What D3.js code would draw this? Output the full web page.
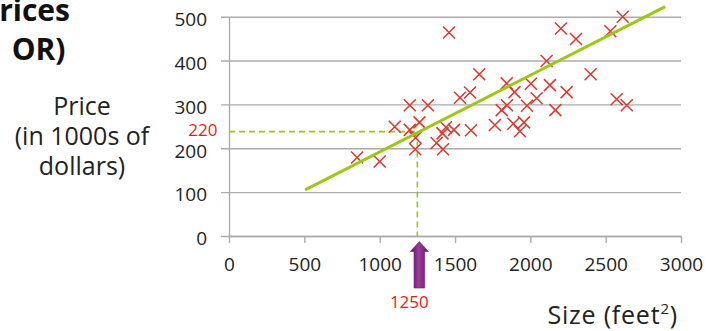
<!DOCTYPE html>
<html>
<head>
<meta charset="utf-8">
<script src="https://cdn.jsdelivr.net/npm/d3@7"></script>
<style>
  html, body { margin: 0; padding: 0; background: #fff; }
  svg { display: block; }
  text { font-family: "Open Sans", "DejaVu Sans", sans-serif; }
</style>
</head>
<body>
<svg id="chart" width="709" height="331"></svg>
<script>
// ---- data ----
const sizes  = [850, 1000, 1100, 1200, 1320, 1200, 1264, 1238, 1236, 1378, 1420, 1417, 1440, 1493, 1606,
                1460, 1533, 1600, 1661, 1765, 1887, 1958, 1931, 1810, 1845, 1978, 2042, 1895, 1843, 2004,
                2130, 2241, 2166, 2108, 2400, 2203, 2303, 2531, 2613, 2573, 2640];
const prices = [179, 170, 249, 298, 298, 242, 259, 224, 198, 212, 198, 234, 248, 242, 241,
                464, 315, 327, 369, 253, 256, 259, 239, 287, 298, 297, 314, 328, 348, 347,
                344, 328, 287, 399, 369, 473, 449, 467, 500, 312, 298];
const fitX = [505, 2895];
const fitY = [105, 523];
const predictSize = 1250;
const predictLineY = 238;
const predictPriceLabel = "220";
const predictSizeLabel = "1250";
const xTicks = [0, 500, 1000, 1500, 2000, 2500, 3000];
const yTicks = [0, 100, 200, 300, 400, 500];
const titleLines = ["Housing Prices", "(Portland, OR)"];
const yLabelLines = ["Price", "(in 1000s of", "dollars)"];
const xLabel = "Size (feet";

// ---- scales ----
const svg = d3.select("#chart");
const x = d3.scaleLinear().domain([0, 3000]).range([229, 681]);
const y = d3.scaleLinear().domain([0, 500]).range([236, 16.7]);

const gridColor = "#ababab";
const textColor = "#222";

// gridlines
const grid = svg.append("g").attr("transform", "translate(681,0)")
  .call(d3.axisLeft(y).tickValues(yTicks).tickSize(460).tickFormat(""));
grid.select(".domain").remove();
grid.selectAll("line").attr("stroke", gridColor).attr("stroke-width", 1.4);

// y axis
const yAx = svg.append("g").attr("transform", "translate(229,0)")
  .call(d3.axisLeft(y).tickValues(yTicks).tickSize(0).tickPadding(22).tickFormat(d3.format("d")));
yAx.select(".domain").attr("stroke", gridColor).attr("stroke-width", 1.4);
yAx.selectAll("text").attr("font-size", 19).attr("fill", textColor).attr("dy", "0.46em")
  .style("font-family", "'Open Sans', sans-serif");

// x axis
const xAx = svg.append("g").attr("transform", "translate(0,236)")
  .call(d3.axisBottom(x).tickValues(xTicks).tickSize(7).tickSizeOuter(0).tickPadding(15)
        .tickFormat(d3.format("d")));
xAx.select(".domain").attr("stroke", gridColor).attr("stroke-width", 1.4);
xAx.selectAll("line").attr("stroke", gridColor).attr("stroke-width", 1.4);
xAx.selectAll("text").attr("font-size", 19).attr("fill", textColor)
  .style("font-family", "'Open Sans', sans-serif");

// dashed guide lines
const green = "#9cc812";
svg.append("line")
  .attr("x1", x(0)).attr("x2", x(predictSize))
  .attr("y1", y(predictLineY)).attr("y2", y(predictLineY))
  .attr("stroke", green).attr("stroke-width", 1.6).attr("stroke-dasharray", "6,4");
svg.append("line")
  .attr("x1", x(predictSize)).attr("x2", x(predictSize))
  .attr("y1", y(predictLineY)).attr("y2", y(0))
  .attr("stroke", green).attr("stroke-width", 1.6).attr("stroke-dasharray", "6,4");

// data crosses
const pts = sizes.map((s, i) => [s, prices[i]]);
const r = 6;
svg.append("g").selectAll("path").data(pts).join("path")
  .attr("d", d => {
    const cx = x(d[0]), cy = y(d[1]);
    return `M${cx - r},${cy - r}L${cx + r},${cy + r}M${cx - r},${cy + r}L${cx + r},${cy - r}`;
  })
  .attr("stroke", "#e0362b").attr("stroke-width", 1.5).attr("fill", "none");

// fit line
svg.append("path")
  .datum(fitX.map((v, i) => [v, fitY[i]]))
  .attr("d", d3.line().x(d => x(d[0])).y(d => y(d[1])))
  .attr("stroke", green).attr("stroke-width", 3).attr("fill", "none");

// purple arrow
const defs = svg.append("defs");
const grad = defs.append("linearGradient").attr("id", "arrowGrad")
  .attr("x1", "0%").attr("x2", "100%").attr("y1", "0%").attr("y2", "0%");
grad.append("stop").attr("offset", "0%").attr("stop-color", "#5a0f5c");
grad.append("stop").attr("offset", "45%").attr("stop-color", "#9a3c9a");
grad.append("stop").attr("offset", "100%").attr("stop-color", "#6a176b");
const ax = x(predictSize) + 2, tipY = y(0) + 5.5;
svg.append("path")
  .attr("d", `M${ax},${tipY} L${ax + 9},${tipY + 10} L${ax + 5.3},${tipY + 10} L${ax + 5.3},${tipY + 46.5}
              L${ax - 5.3},${tipY + 46.5} L${ax - 5.3},${tipY + 10} L${ax - 9},${tipY + 10} Z`)
  .attr("fill", "url(#arrowGrad)").attr("stroke", "#6a176b").attr("stroke-width", 0.6);

// red labels
svg.append("text").attr("x", 217.5).attr("y", y(predictLineY) + 4)
  .attr("text-anchor", "end").attr("font-size", 17).attr("fill", "#f01818")
  .text(predictPriceLabel);
svg.append("text").attr("x", x(predictSize) - 8).attr("y", 308)
  .attr("text-anchor", "middle").attr("font-size", 17).attr("fill", "#f01818")
  .text(predictSizeLabel);

// title fragment (cut off at the left edge, as in the reference)
svg.append("text").attr("x", 70).attr("y", 21).attr("text-anchor", "end")
  .attr("font-size", 30).attr("font-weight", "bold").attr("fill", "#111")
  .text(titleLines[0]);
svg.append("text").attr("x", 65.5).attr("y", 60).attr("text-anchor", "end")
  .attr("font-size", 30).attr("font-weight", "bold").attr("fill", "#111")
  .attr("word-spacing", 14)
  .text(titleLines[1]);

// y label
svg.append("g").selectAll("text").data(yLabelLines).join("text")
  .attr("x", 82).attr("y", (d, i) => 115 + i * 30)
  .attr("text-anchor", "middle").attr("font-size", 25).attr("fill", textColor)
  .text(d => d);

// x label
const xl = svg.append("text").attr("x", 678).attr("y", 324).attr("text-anchor", "end")
  .attr("font-size", 25).attr("letter-spacing", 0.8).attr("fill", textColor);
xl.append("tspan").text(xLabel);
xl.append("tspan").attr("font-size", 15).attr("dy", -10).text("2");
xl.append("tspan").attr("dy", 10).text(")");
</script>
</body>
</html>
